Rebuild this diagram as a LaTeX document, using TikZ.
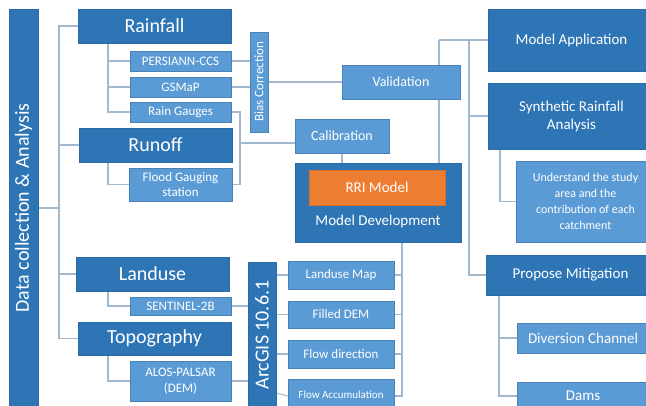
\documentclass[tikz,border=0pt]{standalone}
\usepackage{fontspec}
\setmainfont{Carlito}
\usetikzlibrary{backgrounds}
\definecolor{dkb}{HTML}{2E75B6}
\definecolor{dkedge}{HTML}{2B6AA3}
\definecolor{ltb}{HTML}{5B9BD5}
\definecolor{ltedge}{HTML}{4A82B8}
\definecolor{lnc}{HTML}{A3B9CF}
\definecolor{orng}{HTML}{ED7D31}
\begin{document}
\begin{tikzpicture}[x=1pt,y=-1pt,
  wh/.style 2 args={minimum width=#1pt, minimum height=#2pt},
  box/.style={rectangle, inner sep=0pt, text=white, align=center, line width=0.6pt},
  dark/.style={box, fill=dkb, draw=dkedge},
  light/.style={box, fill=ltb, draw=ltedge},
  conn/.style={draw=lnc, line width=1.1pt},
  fbig/.style={font=\fontsize{20}{22}\selectfont},
  fmid/.style={font=\fontsize{15}{18}\selectfont},
  fsm/.style={font=\fontsize{14}{16}\selectfont},
  fxs/.style={font=\fontsize{13}{15.5}\selectfont},
  ftiny/.style={font=\fontsize{11}{13}\selectfont},
  fund/.style={font=\fontsize{12}{16}\selectfont},
  rot/.style={rotate=90, text=white, inner sep=0pt}
]
\useasboundingbox (0,0) rectangle (646,405);
\clip (0,0) rectangle (646,405);

% left bar
\node[dark, wh={29}{401}] (bar) at (23.5,209.5) {};
\node[rot, fbig] (bartext) at (23.5,208) {Data collection \& Analysis};

% rainfall group
\node[dark, fbig, wh={153}{34}] (rain) at (154.5,26) {Rainfall};
\node[light, fxs, wh={101}{20}] (pers) at (180.5,61) {PERSIANN-CCS};
\node[light, fxs, wh={101}{20}] (gsmap) at (180.5,87) {GSMaP};
\node[light, fxs, wh={101}{20}] (gauges) at (180.5,112) {Rain Gauges};
\node[light, wh={18}{100}] (bias) at (259,82) {};
\node[rot, fxs] (biastext) at (bias.center) {Bias Correction};

% runoff group
\node[dark, fbig, wh={153}{34}] (runoff) at (155.5,145) {Runoff};
\node[light, fxs, wh={103}{33}] (flood) at (180.5,184.5) {Flood Gauging\\station};

% landuse / topography
\node[dark, fbig, wh={153}{34}] (landuse) at (152.5,274) {Landuse};
\node[light, fxs, wh={101}{18}] (sent) at (180.5,306) {SENTINEL-2B};
\node[dark, fbig, wh={153}{33}] (topo) at (154.5,338.5) {Topography};
\node[light, fxs, wh={101}{40}] (alos) at (180.5,381) {ALOS-PALSAR\\(DEM)};

% ArcGIS
\node[dark, wh={28}{148}] (arcgis) at (262,336) {};
\node[rot, fbig] (arctext) at (262,335) {ArcGIS 10.6.1};
\node[light, fxs, wh={106}{28}] (lmap) at (341,275) {Landuse Map};
\node[light, fxs, wh={106}{27}] (fdem) at (341,314.5) {Filled DEM};
\node[light, fxs, wh={106}{28}] (fdir) at (341,354) {Flow direction};
\node[light, ftiny, wh={106}{31}] (facc) at (341,394.5) {Flow Accumulation};

% model
\node[light, fsm, wh={118}{34}] (valid) at (401,82) {Validation};
\node[light, fsm, wh={94}{34}] (calib) at (342,136) {Calibration};
\node[dark, wh={166}{79}] (mdev) at (378,202.5) {};
\node[box, fill=orng, draw=orng!90!black, fmid, wh={136}{35}] (rri) at (377,187.5) {RRI Model};
\node[text=white, inner sep=0pt, fmid] (mdevtext) at (378,221) {Model Development};

% right column
\node[dark, fmid, wh={167}{62}] (mapp) at (571.5,40) {Model Application};
\node[dark, fmid, wh={167}{66}] (synth) at (571.5,116) {Synthetic Rainfall\\Analysis};
\node[light, fund, wh={139}{81}] (under) at (585.5,201.5) {Understand the study\\area and the\\contribution of each\\catchment};
\node[dark, fmid, wh={169}{40}] (prop) at (570.5,275) {Propose Mitigation};
\node[light, fmid, wh={132}{30}] (div) at (583,338) {Diversion Channel};
\node[light, fmid, wh={132}{28}] (dams) at (583,396) {Dams};

\coordinate (trunk) at (59,0);
\coordinate (rsub) at (108,0);
\coordinate (cb) at (240,0);
\coordinate (vx) at (439,0);
\coordinate (mx) at (469,0);
\coordinate (sx) at (500,0);
\coordinate (px) at (499,0);
\coordinate (tx) at (402,0);

\begin{pgfonlayer}{background}
% main left tree
\draw[conn] (rain.west) -| (trunk |- topo.west) -- (topo.west);
\draw[conn] (runoff.west) -- (runoff.west -| trunk);
\draw[conn] (landuse.west) -- (landuse.west -| trunk);
\draw[conn] (bar.east |- 0,208) -- (trunk |- 0,208);
% sub trees
\draw[conn] (rain.south -| rsub) |- (gauges.west);
\draw[conn] (pers.west) -- (pers.west -| rsub);
\draw[conn] (gsmap.west) -- (gsmap.west -| rsub);
\draw[conn] (runoff.south -| rsub) |- (flood.west);
\draw[conn] (landuse.south -| rsub) |- (sent.west);
\draw[conn] (topo.south -| rsub) |- (alos.west);
% bias correction
\draw[conn] (pers.east) -- (pers.east -| bias.west);
\draw[conn] (gsmap.east) -- (gsmap.east -| bias.west);
\draw[conn] (bias.east) -- (valid.west);
% calibration bracket
\draw[conn] (gauges.east) -| (cb |- flood.east) -- (flood.east);
\draw[conn] ([yshift=-7pt]calib.west -| cb) -- ([yshift=-7pt]calib.west);
\draw[conn] (calib.south) -- (calib.south |- mdev.north);
% validation
\draw[conn] (vx |- mapp.west) -- (vx |- mdev.north);
\draw[conn] (vx |- mapp.west) -- (mapp.west);
% model application tree
\draw[conn] (mx |- mapp.west) |- (prop.west);
\draw[conn] (mx |- synth.west) -- (synth.west);
\draw[conn] (synth.south -| sx) |- (under.west);
\draw[conn] (prop.south -| px) |- (dams.west);
\draw[conn] (div.west) -- (div.west -| px);
% model development to GIS products
\draw[conn] (mdev.south -| tx) |- ([yshift=-1.5pt]facc.east);
\draw[conn] (lmap.east) -- (lmap.east -| tx);
\draw[conn] (fdem.east) -- (fdem.east -| tx);
\draw[conn] (fdir.east) -- (fdir.east -| tx);
% ArcGIS links
\draw[conn] (sent.east) -- (sent.east -| arcgis.west);
\draw[conn] (alos.east) -- (alos.east -| arcgis.west);
\draw[conn] (arcgis.east |- lmap.west) -- (lmap.west);
\draw[conn] (arcgis.east |- fdem.west) -- (fdem.west);
\draw[conn] (arcgis.east |- fdir.west) -- (fdir.west);
\draw[conn] (arcgis.east |- 0,393) -- ([yshift=-1.5pt]facc.west);
\end{pgfonlayer}
\end{tikzpicture}
\end{document}
